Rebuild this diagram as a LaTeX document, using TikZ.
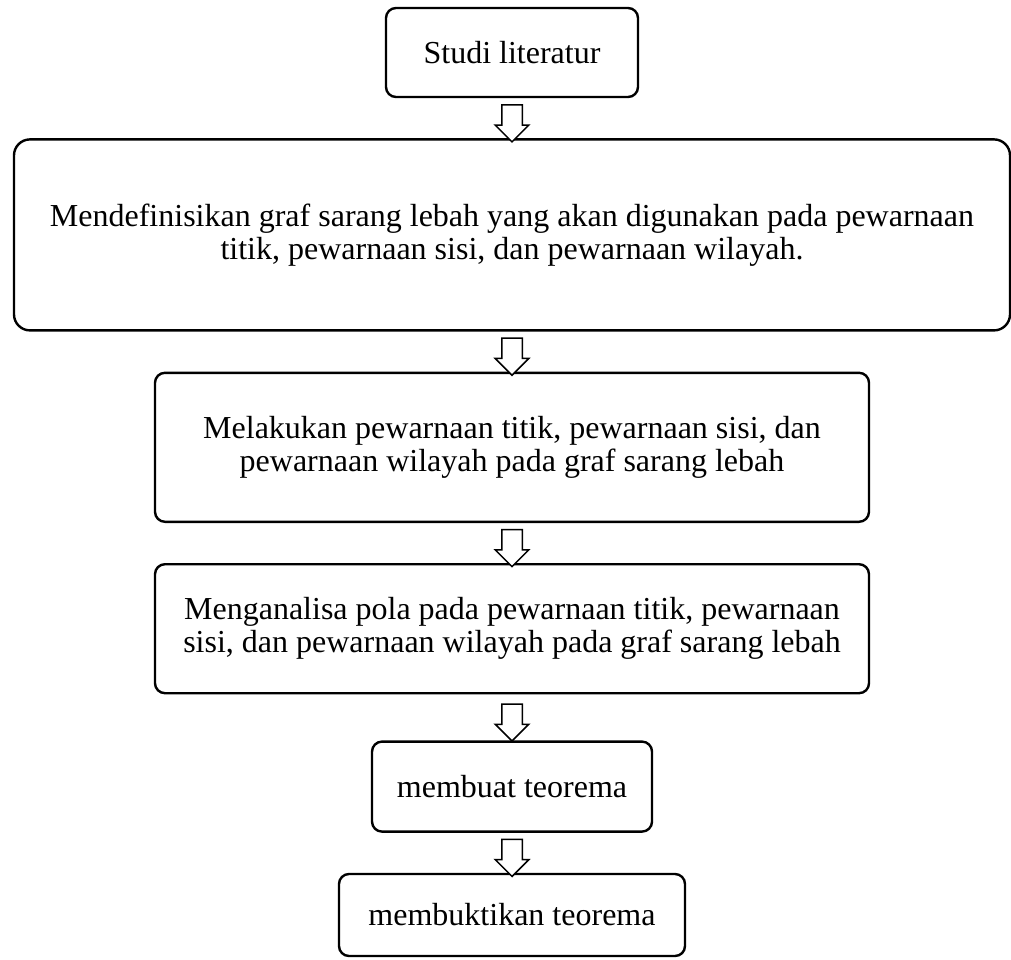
\documentclass[tikz,border=0pt]{standalone}
\usepackage{fontspec}
\setmainfont{Liberation Serif}
\usepackage{tikz}
\usetikzlibrary{shapes.arrows,positioning,calc}
\tikzset{
  tahap/.style={rectangle,rounded corners=5pt,draw=black,line width=1.2pt,
    fill=white,text=black,align=center,inner sep=0pt,
    font=\fontsize{16}{16.5}\selectfont},
  panah/.style={single arrow,draw=black,fill=white,line width=0.75pt,
    minimum height=18.5pt,minimum width=16pt,inner sep=4.75pt,
    single arrow head extend=3.25pt,rotate=-90},
}
\begin{document}
\begin{tikzpicture}[node distance=20pt]
  \useasboundingbox (0,0) rectangle (505.5pt,-479.5pt);
  \node[tahap,minimum width=126pt,minimum height=44.5pt] (studi) at (256pt,-26.25pt) {
    Studi literatur};
  \node[tahap,rounded corners=8pt,minimum width=498pt,minimum height=95.5pt,below=of studi] (definisi) {
    Mendefinisikan graf sarang lebah yang akan digunakan pada pewarnaan\\
    titik, pewarnaan sisi, dan pewarnaan wilayah.};
  \node[tahap,minimum width=357pt,minimum height=74.5pt,below=of definisi] (warnai) {
    Melakukan pewarnaan titik, pewarnaan sisi, dan\\
    pewarnaan wilayah pada graf sarang lebah};
  \node[tahap,minimum width=357pt,minimum height=64.5pt,below=of warnai] (analisa) {
    Menganalisa pola pada pewarnaan titik, pewarnaan\\
    sisi, dan pewarnaan wilayah pada graf sarang lebah};
  \node[tahap,minimum width=140pt,minimum height=45pt,below=23pt of analisa] (teorema) {
    membuat teorema};
  \node[tahap,minimum width=173pt,minimum height=41pt,below=of teorema] (bukti) {
    membuktikan teorema};
  % panah blok di antara tahap
  \node[panah] (p1) at ($(studi.south)!0.5!(definisi.north)$) {};
  \node[panah] (p2) at ($(definisi.south)!0.5!(warnai.north)$) {};
  \node[panah] (p3) at ($(warnai.south)!0.5!(analisa.north)$) {};
  \node[panah] (p4) at ($(analisa.south)!0.5!(teorema.north)$) {};
  \node[panah] (p5) at ($(teorema.south)!0.5!(bukti.north)$) {};
\end{tikzpicture}
\end{document}
